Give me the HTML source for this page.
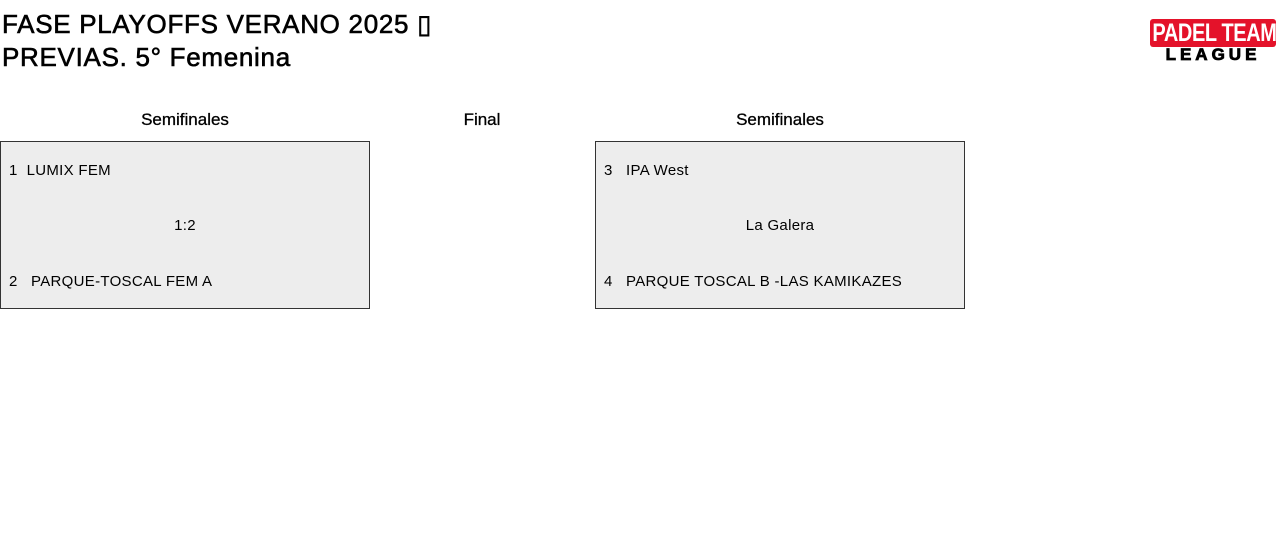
<!DOCTYPE html>
<html><head><meta charset="utf-8"><style>
body{margin:0;width:1280px;height:547px;background:#fff;font-family:"Liberation Sans",sans-serif;color:#000;position:relative;overflow:hidden}
.a{position:absolute;white-space:nowrap}
.t{font-size:26px;letter-spacing:0.7px;line-height:33px;left:2px;top:8px;-webkit-text-stroke:0.6px #000}
.h{font-size:17px;top:110px;transform:translateX(-50%);-webkit-text-stroke:0.3px #000}
.box{position:absolute;top:141px;width:368px;height:166px;border:1px solid #333;background:#ededed}
.r{position:absolute;font-size:15px;letter-spacing:0.3px}
</style></head><body>
<div class="a t">FASE PLAYOFFS VERANO 2025 &#9647;<br>PREVIAS. 5° Femenina</div>
<div class="a" style="left:1150px;top:19px;width:126px;height:28px;background:#e4122a;border-radius:3px;overflow:hidden">
<div style="color:#fff;font-weight:bold;font-size:25px;line-height:28px;letter-spacing:-0.5px;transform:scaleX(0.8);transform-origin:left;padding-left:3px;white-space:nowrap">PADEL TEAM</div></div>
<div class="a" style="left:1150px;top:46px;width:126px;font-weight:900;font-size:17px;line-height:17px;text-align:center;letter-spacing:4px;-webkit-text-stroke:0.8px #000">LEAGUE</div>
<div class="a h" style="left:185px">Semifinales</div>
<div class="a h" style="left:482px">Final</div>
<div class="a h" style="left:780px">Semifinales</div>
<div class="box" style="left:0">
<div class="r" style="left:8px;top:20px">1&nbsp;&nbsp;LUMIX FEM</div>
<div class="r" style="left:0;width:368px;text-align:center;top:75px">1:2</div>
<div class="r" style="left:8px;top:131px">2&nbsp;&nbsp;&nbsp;PARQUE-TOSCAL FEM A</div>
</div>
<div class="box" style="left:595px">
<div class="r" style="left:8px;top:20px">3&nbsp;&nbsp;&nbsp;IPA West</div>
<div class="r" style="left:0;width:368px;text-align:center;top:75px">La Galera</div>
<div class="r" style="left:8px;top:131px">4&nbsp;&nbsp;&nbsp;PARQUE TOSCAL B -LAS KAMIKAZES</div>
</div>
</body></html>
